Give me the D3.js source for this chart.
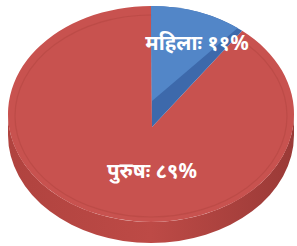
<!DOCTYPE html>
<html>
<head>
<meta charset="utf-8">
<script src="https://cdn.jsdelivr.net/npm/d3@7"></script>
<style>
  html, body { margin: 0; padding: 0; background: #fff; }
  svg { display: block; }
</style>
</head>
<body>
<svg id="chart" width="297" height="246"></svg>
<script>
// chart data
const categories = ["महिला", "पुरुष"];
const values = [11, 89];
const labels = ["महिलाः ११%", "पुरुषः ८९%"];

const width = 297, height = 246;
const cx = 151, cy = 114, rx = 143, ry = 108, depth = 21;
const svg = d3.select("#chart");

const faceColors = ["#5286c8", "#c8524f"];
const wallColors = ["#3d69ab", "#a8413e"];

const pie = d3.pie().sort(null).value(d => d)(values);

// point on the top rim for a pie angle (0 = up, clockwise)
const pt = (a, dy = 0) => [cx + rx * Math.sin(a), cy - ry * Math.cos(a) + dy];

function wedge(d, apex, trim = 0) {
    const p0 = pt(d.startAngle), p1 = pt(d.endAngle - trim);
    const large = d.endAngle - d.startAngle > Math.PI ? 1 : 0;
    return `M${apex[0]},${apex[1]}L${p0[0]},${p0[1]}A${rx},${ry} 0 ${large} 1 ${p1[0]},${p1[1]}Z`;
}

// side wall of the front half
const defs = svg.append("defs");
const grad = defs.append("linearGradient").attr("id", "side").attr("x1", 0).attr("x2", 1);
grad.append("stop").attr("offset", "0%").attr("stop-color", "#b0433f");
grad.append("stop").attr("offset", "50%").attr("stop-color", "#bd4a46");
grad.append("stop").attr("offset", "100%").attr("stop-color", "#9a3a37");

const l = pt(Math.PI * 1.5), r = pt(Math.PI / 2);
svg.append("path")
    .attr("d", `M${r[0]},${r[1]}A${rx},${ry} 0 0 1 ${l[0]},${l[1]}L${l[0]},${l[1] + depth}A${rx},${ry} 0 0 0 ${r[0]},${r[1] + depth}Z`)
    .attr("fill", "url(#side)");

// top faces
const apexLow = [cx + 1, cy + 13];
const apexHigh = [cx + 1, cy - 13];

svg.append("path")
    .attr("d", wedge(pie[1], apexLow))
    .attr("fill", faceColors[1]);

// faint bevel line inside the rim
svg.append("ellipse")
    .attr("cx", cx).attr("cy", cy + 2)
    .attr("rx", rx - 7).attr("ry", ry - 7)
    .attr("fill", "none")
    .attr("stroke", "#b84845")
    .attr("stroke-width", 1.2)
    .attr("opacity", 0.7);

svg.append("path")
    .attr("d", wedge(pie[0], apexLow))
    .attr("fill", wallColors[0]);

svg.append("path")
    .attr("d", wedge(pie[0], apexHigh, 0.04))
    .attr("fill", faceColors[0]);

// labels
svg.selectAll("text.lbl")
    .data(labels)
    .join("text")
    .attr("class", "lbl")
    .attr("x", (d, i) => i === 0 ? 197 : 152)
    .attr("y", (d, i) => i === 0 ? 50 : 178)
    .attr("text-anchor", "middle")
    .attr("font-family", "'Noto Sans', 'Noto Sans Devanagari', sans-serif")
    .attr("font-weight", "bold")
    .attr("font-size", 20.5)
    .attr("fill", "#fff")
    .text(d => d);
</script>
</body>
</html>
